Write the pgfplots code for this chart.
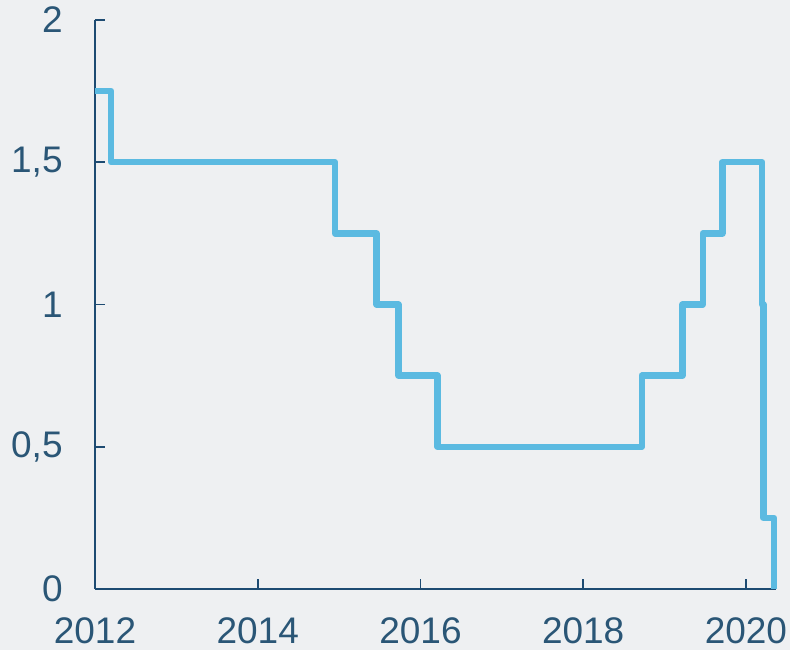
\documentclass[border=0pt]{standalone}
\usepackage{fontspec}
\setmainfont{Liberation Sans}
\usepackage{xcolor}
\usepackage{pgfplots}
\pgfplotsset{compat=1.18}

\definecolor{bg}{HTML}{EEF0F2}
\definecolor{axisblue}{HTML}{1D4B72}
\definecolor{labelblue}{HTML}{2A5676}
\definecolor{lineblue}{HTML}{5BBAE1}
\pagecolor{bg}

\begin{document}
\begin{tikzpicture}
\begin{axis}[
    scale only axis,
    width=340.5pt,
    height=284.5pt,
    xmin=2012, xmax=2020.37,
    ymin=0, ymax=2,
    axis lines=left,
    axis line style={-, axisblue, line width=0.9pt},
    xtick={2012,2014,2016,2018,2020},
    ytick={0,0.5,1,1.5,2},
    tick align=inside,
    major tick length=5pt,
    tick style={axisblue, line width=0.9pt},
    xticklabel style={inner sep=0pt, yshift=-14pt},
    yticklabel style={inner sep=0pt, xshift=-16pt},
    tick label style={font=\fontsize{18.5}{21}\selectfont, text=labelblue},
    /pgf/number format/assume math mode=true,
    /pgf/number format/use comma,
    /pgf/number format/1000 sep={},
    clip=false,
]
\addplot[const plot mark left, lineblue, line width=3.2pt, line join=round] coordinates {
    (2012,1.75) (2012.2,1.5) (2014.95,1.25) (2015.46,1.0) (2015.73,0.75)
    (2016.21,0.5) (2018.72,0.75) (2019.22,1.0) (2019.47,1.25) (2019.71,1.5)
    (2020.2,1.0) (2020.215,0.25) (2020.345,0)
};
\end{axis}
\useasboundingbox ([xshift=-47.5pt,yshift=-30.5pt]current axis.south west)
    rectangle ([xshift=7pt,yshift=10pt]current axis.north east);
\end{tikzpicture}
\end{document}
